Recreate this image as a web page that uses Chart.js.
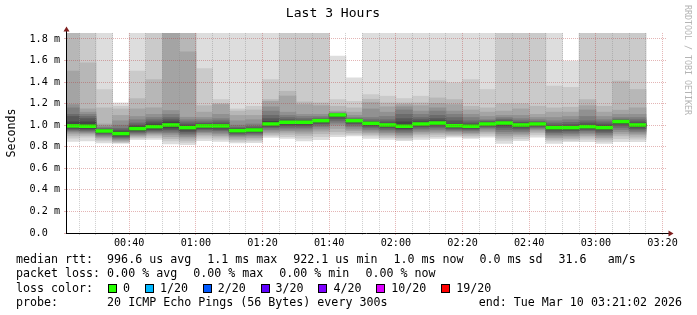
<!DOCTYPE html>
<html>
<head>
<meta charset="utf-8">
<title>Last 3 Hours</title>
<script src="https://cdn.jsdelivr.net/npm/chart.js@4.4.1/dist/chart.umd.min.js"></script>
<style>
    html, body { margin: 0; padding: 0; background: #ffffff; }
    #wrap { position: relative; width: 697px; height: 315px; overflow: hidden; background: #ffffff; }
    #graph { position: absolute; left: 0; top: 0; }
    .line { position: absolute; left: 16px; font-family: 'DejaVu Sans Mono', monospace; font-size: 11.65px; line-height: 14px; color: #000; white-space: pre; }
    .box { display: inline-block; width: 7px; height: 7px; border: 1px solid #000; vertical-align: top; margin-top: 3px; }
    #watermark { position: absolute; left: 683px; top: 5px; writing-mode: vertical-rl; font-family: 'DejaVu Sans Mono', monospace; font-size: 8.3px; line-height: 10px; color: #b4b4b4; white-space: pre; }
</style>
</head>
<body>
<div id="wrap">
    <canvas id="graph" width="697" height="315"></canvas>
</div>
<script>
// ==========================================
// DATA
// ==========================================

const axisStart = '00:21:02';   // left edge of the graph
const spanMinutes = 180;        // "Last 3 Hours"

// end of each 300 s step, the bar covers the 5 minutes before it
const slotEnd = ['00:25', '00:30', '00:35', '00:40', '00:45', '00:50', '00:55', '01:00', '01:05', '01:10',
                 '01:15', '01:20', '01:25', '01:30', '01:35', '01:40', '01:45', '01:50', '01:55', '02:00',
                 '02:05', '02:10', '02:15', '02:20', '02:25', '02:30', '02:35', '02:40', '02:45', '02:50',
                 '02:55', '03:00', '03:05', '03:10', '03:15'];

// median rtt per step (ms) - the green line
const medianRtt = [0.993, 0.990, 0.946, 0.922, 0.968, 0.986, 1.002, 0.977, 0.993, 0.993,
                   0.949, 0.955, 1.011, 1.027, 1.027, 1.042, 1.095, 1.042, 1.017, 1.002,
                   0.990, 1.011, 1.020, 0.995, 0.990, 1.011, 1.020, 1.002, 1.011, 0.977,
                   0.977, 0.986, 0.977, 1.033, 1.002];

const pings = [
    [0.850, 0.880, 0.900, 0.920, 0.935, 0.945, 0.955, 0.965, 0.975, 0.990, 1.000, 1.030, 1.080, 1.100, 1.160, 1.190, 1.500, 1.950, 2.100, 2.300],
    [0.855, 0.890, 0.905, 0.920, 0.930, 0.940, 0.950, 0.960, 0.970, 0.980, 1.000, 1.030, 1.060, 1.080, 1.100, 1.120, 1.150, 1.577, 2.000, 2.200],
    [0.835, 0.855, 0.870, 0.885, 0.895, 0.905, 0.915, 0.925, 0.935, 0.943, 0.950, 0.955, 0.960, 0.970, 0.980, 0.995, 1.010, 1.160, 1.330, 2.100],
    [0.832, 0.840, 0.845, 0.855, 0.865, 0.875, 0.885, 0.895, 0.905, 0.915, 0.930, 0.940, 0.955, 0.970, 1.000, 1.040, 1.090, 1.150, 1.175, 1.206],
    [0.865, 0.880, 0.890, 0.900, 0.910, 0.920, 0.930, 0.940, 0.950, 0.962, 0.975, 0.990, 1.000, 1.020, 1.050, 1.080, 1.150, 1.246, 1.500, 2.000],
    [0.868, 0.885, 0.900, 0.915, 0.925, 0.935, 0.945, 0.955, 0.965, 0.978, 0.995, 1.010, 1.030, 1.050, 1.070, 1.100, 1.160, 1.422, 1.950, 2.200],
    [0.826, 0.855, 0.875, 0.895, 0.915, 0.930, 0.945, 0.960, 0.975, 0.995, 1.010, 1.030, 1.050, 1.070, 1.100, 1.135, 1.900, 2.000, 2.200, 2.500],
    [0.820, 0.840, 0.860, 0.880, 0.895, 0.910, 0.925, 0.940, 0.955, 0.970, 0.985, 0.995, 1.010, 1.030, 1.050, 1.073, 1.679, 1.950, 2.100, 2.300],
    [0.856, 0.880, 0.900, 0.915, 0.930, 0.940, 0.955, 0.965, 0.975, 0.988, 0.998, 1.005, 1.015, 1.030, 1.050, 1.070, 1.120, 1.180, 1.524, 2.000],
    [0.850, 0.870, 0.890, 0.905, 0.920, 0.935, 0.950, 0.960, 0.975, 0.988, 0.998, 1.005, 1.020, 1.040, 1.060, 1.100, 1.190, 1.200, 1.237, 2.000],
    [0.835, 0.850, 0.865, 0.880, 0.895, 0.905, 0.915, 0.925, 0.935, 0.945, 0.953, 0.960, 0.970, 0.980, 1.000, 1.040, 1.090, 1.130, 1.150, 2.000],
    [0.838, 0.855, 0.870, 0.885, 0.900, 0.910, 0.920, 0.932, 0.942, 0.952, 0.958, 0.965, 0.975, 0.990, 1.010, 1.050, 1.090, 1.140, 1.175, 2.000],
    [0.888, 0.900, 0.915, 0.930, 0.945, 0.960, 0.975, 0.985, 0.995, 1.005, 1.017, 1.035, 1.060, 1.090, 1.130, 1.170, 1.220, 1.237, 1.422, 2.000],
    [0.878, 0.895, 0.915, 0.935, 0.950, 0.965, 0.980, 0.995, 1.010, 1.024, 1.030, 1.035, 1.050, 1.070, 1.090, 1.120, 1.270, 1.314, 1.950, 2.200],
    [0.855, 0.880, 0.905, 0.925, 0.945, 0.965, 0.980, 0.995, 1.010, 1.024, 1.030, 1.035, 1.045, 1.060, 1.080, 1.100, 1.190, 1.215, 1.950, 2.200],
    [0.865, 0.895, 0.920, 0.945, 0.965, 0.985, 1.000, 1.015, 1.030, 1.040, 1.045, 1.048, 1.055, 1.065, 1.080, 1.100, 1.180, 1.206, 1.950, 2.200],
    [0.895, 0.915, 0.940, 0.970, 1.000, 1.020, 1.040, 1.060, 1.080, 1.093, 1.097, 1.098, 1.100, 1.105, 1.110, 1.120, 1.130, 1.175, 1.237, 1.640],
    [0.900, 0.915, 0.930, 0.950, 0.965, 0.985, 1.000, 1.015, 1.030, 1.040, 1.045, 1.047, 1.050, 1.060, 1.070, 1.090, 1.120, 1.160, 1.220, 1.438],
    [0.878, 0.900, 0.915, 0.930, 0.945, 0.960, 0.975, 0.990, 1.000, 1.014, 1.020, 1.025, 1.035, 1.050, 1.070, 1.150, 1.210, 1.240, 1.283, 2.000],
    [0.869, 0.885, 0.900, 0.915, 0.930, 0.945, 0.960, 0.975, 0.985, 0.996, 1.004, 1.010, 1.030, 1.050, 1.080, 1.120, 1.170, 1.206, 1.268, 2.000],
    [0.856, 0.870, 0.885, 0.900, 0.915, 0.930, 0.945, 0.960, 0.970, 0.980, 1.000, 1.030, 1.060, 1.100, 1.140, 1.170, 1.190, 1.206, 1.246, 2.000],
    [0.869, 0.890, 0.910, 0.925, 0.940, 0.955, 0.970, 0.985, 0.995, 1.007, 1.015, 1.030, 1.050, 1.070, 1.100, 1.130, 1.180, 1.206, 1.268, 2.000],
    [0.878, 0.895, 0.915, 0.930, 0.945, 0.960, 0.975, 0.990, 1.005, 1.016, 1.024, 1.040, 1.060, 1.090, 1.130, 1.160, 1.200, 1.252, 1.413, 2.000],
    [0.890, 0.900, 0.910, 0.925, 0.940, 0.950, 0.960, 0.970, 0.980, 0.990, 1.000, 1.010, 1.040, 1.070, 1.100, 1.130, 1.190, 1.237, 1.391, 2.000],
    [0.878, 0.890, 0.905, 0.920, 0.930, 0.945, 0.955, 0.965, 0.975, 0.985, 0.995, 1.005, 1.020, 1.040, 1.070, 1.100, 1.140, 1.175, 1.422, 2.000],
    [0.890, 0.905, 0.925, 0.940, 0.955, 0.970, 0.980, 0.990, 1.000, 1.007, 1.015, 1.020, 1.030, 1.040, 1.050, 1.080, 1.120, 1.160, 1.330, 2.000],
    [0.832, 0.860, 0.880, 0.900, 0.920, 0.940, 0.960, 0.980, 1.000, 1.016, 1.024, 1.030, 1.040, 1.055, 1.070, 1.090, 1.130, 1.197, 1.950, 2.200],
    [0.856, 0.875, 0.895, 0.910, 0.925, 0.940, 0.955, 0.970, 0.985, 0.995, 1.005, 1.012, 1.025, 1.040, 1.060, 1.090, 1.150, 1.197, 1.950, 2.200],
    [0.890, 0.910, 0.930, 0.945, 0.960, 0.970, 0.980, 0.990, 1.000, 1.008, 1.014, 1.018, 1.025, 1.035, 1.050, 1.070, 1.100, 1.175, 1.950, 2.200],
    [0.832, 0.855, 0.870, 0.885, 0.900, 0.915, 0.930, 0.945, 0.960, 0.972, 0.982, 0.990, 1.000, 1.020, 1.040, 1.070, 1.120, 1.160, 1.361, 2.000],
    [0.847, 0.860, 0.875, 0.890, 0.905, 0.920, 0.935, 0.950, 0.960, 0.972, 0.982, 0.990, 1.005, 1.025, 1.050, 1.080, 1.120, 1.166, 1.351, 1.593],
    [0.847, 0.870, 0.890, 0.905, 0.920, 0.935, 0.950, 0.960, 0.970, 0.982, 0.990, 1.000, 1.020, 1.040, 1.080, 1.140, 1.180, 1.237, 1.950, 2.200],
    [0.832, 0.850, 0.870, 0.885, 0.900, 0.915, 0.930, 0.945, 0.960, 0.972, 0.982, 0.995, 1.010, 1.030, 1.050, 1.080, 1.120, 1.175, 1.950, 2.200],
    [0.847, 0.875, 0.900, 0.920, 0.940, 0.960, 0.980, 1.000, 1.015, 1.030, 1.036, 1.040, 1.045, 1.055, 1.070, 1.100, 1.138, 1.407, 1.950, 2.200],
    [0.847, 0.870, 0.890, 0.910, 0.925, 0.940, 0.955, 0.970, 0.985, 0.998, 1.006, 1.015, 1.030, 1.050, 1.070, 1.100, 1.160, 1.330, 1.950, 2.200]
];

const yAxisMax = 1.855;
const xTickLabels = ['00:40', '01:00', '01:20', '01:40', '02:00', '02:20', '02:40', '03:00', '03:20'];
const yTickLabels = ['0.0', '0.2 m', '0.4 m', '0.6 m', '0.8 m', '1.0 m', '1.2 m', '1.4 m', '1.6 m', '1.8 m'];

const lossLabels = ['0', '1/20', '2/20', '3/20', '4/20', '10/20', '19/20'];
const lossColors = ['#26ff00', '#00b8ff', '#0059ff', '#5e00ff', '#7e00ff', '#dd00ff', '#ff0000'];

const statsMedian = ['median rtt:  996.6 us avg', '1.1 ms max', '922.1 us min', '1.0 ms now', '0.0 ms sd', '31.6   am/s'];
const statsLoss = ['packet loss: 0.00 % avg', '0.00 % max', '0.00 % min', '0.00 % now'];
const probeText = 'probe:       20 ICMP Echo Pings (56 Bytes) every 300s';
const endText = 'end: Tue Mar 10 03:21:02 2026';

// ==========================================
// HELPERS
// ==========================================

function toMin(t) {
    const p = t.split(':').map(Number);
    return p[0] * 60 + p[1] + (p[2] || 0) / 60;
}

const startMin = toMin(axisStart);
const endMin = startMin + spanMinutes;
const monoFont = 'DejaVu Sans Mono';
const minorGrid = 'rgba(140,140,140,0.42)';
const majorGrid = 'rgba(180,50,50,0.36)';

// ==========================================
// SMOKE + MEDIAN DATASETS
// ==========================================

const datasets = [];

// layer i spans ping i .. ping (21-i), the inner ones are darker and drawn on top
for (let i = 1; i <= 10; i++) {
    const g = Math.floor(190 / 10 * (10 - i)) + 50;
    datasets.push({
        label: 'smoke' + i,
        data: slotEnd.map((t, k) => ({ x: toMin(t) - 2.5, y: [pings[k][i - 1], pings[k][20 - i]] })),
        backgroundColor: 'rgb(' + g + ',' + g + ',' + g + ')',
        order: 30 - i,
        clip: 0
    });
}

const medianHalf = 0.0125;
datasets.push({
    label: 'median',
    data: slotEnd.map((t, k) => ({ x: toMin(t) - 2.5, y: [medianRtt[k] - medianHalf, medianRtt[k] + medianHalf] })),
    backgroundColor: lossColors[0],
    order: 0,
    clip: 0
});

// arrows at the ends of the axes, like rrdtool
const axisArrows = {
    id: 'axisArrows',
    afterDraw(chart) {
        const { ctx, chartArea: a } = chart;
        ctx.save();
        ctx.strokeStyle = '#000';
        ctx.lineWidth = 1;
        ctx.beginPath();
        ctx.moveTo(a.right, Math.round(a.bottom) + 0.5);
        ctx.lineTo(a.right + 3, Math.round(a.bottom) + 0.5);
        ctx.moveTo(Math.round(a.left) + 0.5, a.top);
        ctx.lineTo(Math.round(a.left) + 0.5, a.top - 2);
        ctx.stroke();
        ctx.fillStyle = '#7f1f1f';
        const cx = Math.round(a.left) + 0.5;
        ctx.beginPath();
        ctx.moveTo(cx, a.top - 6.5);
        ctx.lineTo(cx - 3, a.top - 1.5);
        ctx.lineTo(cx + 3, a.top - 1.5);
        ctx.closePath();
        ctx.fill();
        const cy = Math.round(a.bottom) + 0.5;
        ctx.beginPath();
        ctx.moveTo(a.right + 7.5, cy);
        ctx.lineTo(a.right + 2.5, cy - 3);
        ctx.lineTo(a.right + 2.5, cy + 3);
        ctx.closePath();
        ctx.fill();
        ctx.restore();
    }
};

// ==========================================
// CHART
// ==========================================

new Chart(document.getElementById('graph'), {
    type: 'bar',
    data: { datasets: datasets },
    plugins: [axisArrows],
    options: {
        responsive: false,
        animation: false,
        events: [],
        layout: { padding: { left: 0, right: 31, top: 0, bottom: 62 } },
        datasets: {
            bar: { grouped: false, barPercentage: 1, categoryPercentage: 1, borderWidth: 0, inflateAmount: 0.4 }
        },
        plugins: {
            legend: { display: false },
            tooltip: { enabled: false },
            title: {
                display: true,
                text: 'Last 3 Hours',
                color: '#000',
                font: { family: monoFont, size: 13.05, weight: 'normal' },
                padding: { top: 6.2, bottom: 11.1 }
            }
        },
        scales: {
            x: {
                type: 'linear',
                min: startMin,
                max: endMin,
                bounds: 'data',
                offset: false,
                afterBuildTicks: s => {
                    const t = [];
                    for (let v = Math.ceil(startMin / 5) * 5; v <= endMin; v += 5) t.push({ value: v });
                    s.ticks = t;
                },
                afterFit: s => { s.height = 20; },
                grid: {
                    offset: false,
                    z: 1,
                    lineWidth: 1,
                    tickLength: 2,
                    color: c => (c.tick && Math.round(c.tick.value) % 20 === 0) ? majorGrid : minorGrid
                },
                border: { display: true, color: '#000', width: 1, dash: [1, 1], z: 2 },
                ticks: {
                    autoSkip: false,
                    maxRotation: 0,
                    padding: 2,
                    color: '#000',
                    font: { family: monoFont, size: 10.15 },
                    callback: v => xTickLabels.find(l => toMin(l) === Math.round(v)) || ''
                }
            },
            y: {
                type: 'linear',
                min: 0,
                max: yAxisMax,
                bounds: 'data',
                afterBuildTicks: s => {
                    const t = [];
                    for (let i = 0; i <= 18; i++) t.push({ value: i / 10 });
                    s.ticks = t;
                },
                afterFit: s => { s.width = 66; },
                grid: {
                    z: 1,
                    lineWidth: 1,
                    tickLength: 2,
                    color: c => (c.tick && Math.round(c.tick.value * 10) % 2 === 0) ? majorGrid : minorGrid
                },
                border: { display: true, color: '#000', width: 1, dash: [1, 1], z: 2 },
                ticks: {
                    padding: 4,
                    color: '#000',
                    font: { family: monoFont, size: 10.15 },
                    callback: v => {
                        const i = Math.round(v * 10);
                        return i % 2 === 0 ? yTickLabels[i / 2].padEnd(5, ' ') : '';
                    }
                },
                title: {
                    display: true,
                    text: 'Seconds',
                    color: '#000',
                    font: { family: monoFont, size: 11.65, weight: 'normal' },
                    padding: { top: 4.5, bottom: 0 }
                }
            }
        }
    }
});

// ==========================================
// TEXT BELOW THE GRAPH
// ==========================================

const wrap = document.getElementById('wrap');

function addLine(top, items, gap) {
    const line = document.createElement('div');
    line.className = 'line';
    line.style.top = top + 'px';
    items.forEach((t, i) => {
        const s = document.createElement('span');
        s.textContent = t;
        if (i) s.style.marginLeft = gap + 'px';
        line.appendChild(s);
    });
    wrap.appendChild(line);
    return line;
}

addLine(252.3, statsMedian, 16);
addLine(266.3, statsLoss, 16);

const lossLine = addLine(280.5, ['loss color:'], 0);
lossLabels.forEach((lab, i) => {
    const b = document.createElement('span');
    b.className = 'box';
    b.style.background = lossColors[i];
    b.style.marginLeft = (i === 0 ? 15 : 14.8) + 'px';
    lossLine.appendChild(b);
    const s = document.createElement('span');
    s.textContent = lab;
    s.style.marginLeft = '6px';
    lossLine.appendChild(s);
});

addLine(294.5, [probeText], 0);
const endLine = addLine(294.5, [endText], 0);
endLine.style.left = 'auto';
endLine.style.right = '15px';

const mark = document.createElement('div');
mark.id = 'watermark';
mark.textContent = 'RRDTOOL / TOBI OETIKER';
wrap.appendChild(mark);
</script>
</body>
</html>
